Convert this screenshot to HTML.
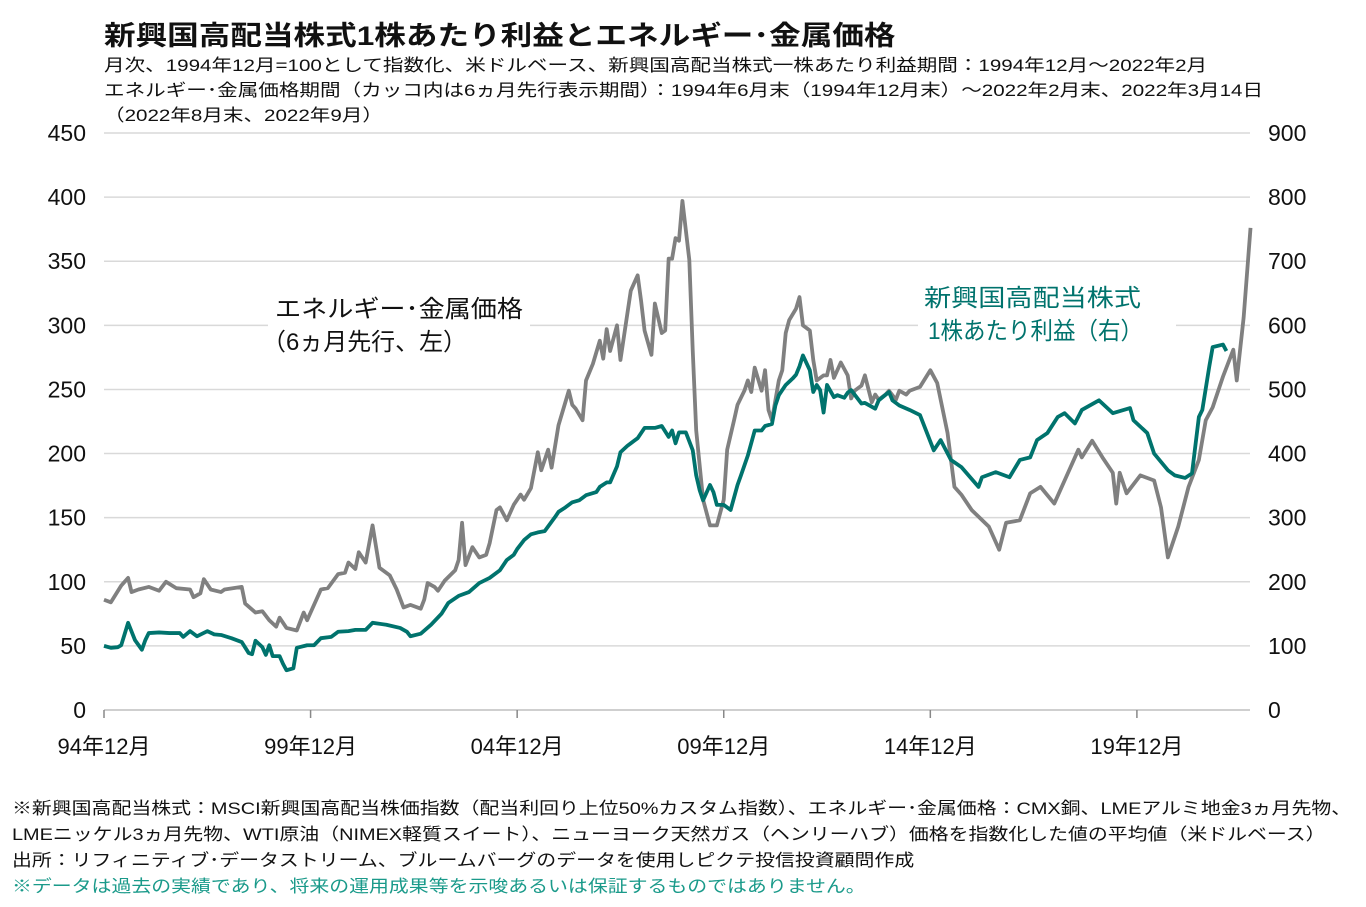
<!DOCTYPE html>
<html><head><meta charset="utf-8">
<style>
body{margin:0;background:#fff;width:1366px;height:907px;overflow:hidden;font-family:"Liberation Sans","Noto Sans CJK JP",sans-serif;color:#111}
.t{position:absolute;white-space:nowrap;transform-origin:0 0}
</style></head><body>
<div class="t" style="left:104px;top:14px;font-size:27px;font-weight:bold;transform:scaleX(1.17)">新興国高配当株式1株あたり利益とエネルギー･金属価格</div>
<div class="t" style="left:104px;top:51px;font-size:17px;transform:scaleX(1.21)">月次、1994年12月=100として指数化、米ドルベース、新興国高配当株式一株あたり利益期間：1994年12月～2022年2月</div>
<div class="t" style="left:104px;top:76px;font-size:17px;transform:scaleX(1.21)">エネルギー･金属価格期間（カッコ内は6ヵ月先行表示期間）：1994年6月末（1994年12月末）～2022年2月末、2022年3月14日</div>
<div class="t" style="left:104px;top:101px;font-size:17px;transform:scaleX(1.21)">（2022年8月末、2022年9月）</div>
<svg id="chart" width="1366" height="907" style="position:absolute;left:0;top:0"></svg>
<div class="t" style="left:12px;top:794px;font-size:17px;transform:scaleX(1.17)">※新興国高配当株式：MSCI新興国高配当株価指数（配当利回り上位50%カスタム指数）、エネルギー･金属価格：CMX銅、LMEアルミ地金3ヵ月先物、</div>
<div class="t" style="left:12px;top:820px;font-size:17px;transform:scaleX(1.17)">LMEニッケル3ヵ月先物、WTI原油（NIMEX軽質スイート）、ニューヨーク天然ガス（ヘンリーハブ）価格を指数化した値の平均値（米ドルベース）</div>
<div class="t" style="left:12px;top:846px;font-size:17px;transform:scaleX(1.17)">出所：リフィニティブ･データストリーム、ブルームバーグのデータを使用しピクテ投信投資顧問作成</div>
<div class="t" style="left:12px;top:872px;font-size:17px;color:#1a9a8a;transform:scaleX(1.17)">※データは過去の実績であり、将来の運用成果等を示唆あるいは保証するものではありません。</div>
<script>
const xTickLabels=["94年12月","99年12月","04年12月","09年12月","14年12月","19年12月"];
const xTickMonths=[0,60,120,180,240,300];
const leftTicks=[0,50,100,150,200,250,300,350,400,450];
const rightTicks=[0,100,200,300,400,500,600,700,800,900];
const greyMonths=[0,2,5,7,8,10,13,16,18,21,25,26,28,29,31,34,35,40,41,44,46,48,50,51,53,56,58,59,63,65,68,70,71,73,74,76,78,80,83,85,87,89,92,93,94,96,97,98,99,102,103,104,105,107,109,111,112,114,115,117,119,121,122,124,126,127,129,130,132,135,136,137,139,140,142,144,145,146,147,149,150,153,155,156,157,159,160,162,163,164,165,166,167,168,170,171,172,174,176,178,180,181,183,184,186,187,188,189,191,192,193,194,196,197,198,199,201,202,203,205,206,207,209,210,211,212,214,216,217,218,220,221,223,224,225,227,228,230,231,233,234,237,240,242,245,247,249,252,257,260,262,266,269,272,276,279,283,284,287,290,293,294,295,297,301,305,307,309,312,315,318,320,322,325,328,329,331,333];
const greyValues=[86,84,97,103,92,94,96,93,100,95,94,88,91,102,94,92,94,96,83,76,77,70,65,72,64,62,76,70,94,95,106,107,115,110,123,115,144,111,105,94,80,82,79,86,99,96,93,97,101,109,117,146,113,127,119,121,130,156,158,148,160,168,164,173,201,187,203,189,222,249,238,235,226,257,270,288,274,297,280,300,273,327,339,319,296,277,317,294,296,352,352,368,366,397,351,280,218,164,144,144,164,203,226,238,249,257,248,267,249,265,234,226,257,265,294,304,313,322,300,296,273,257,261,261,273,259,271,261,243,249,253,261,240,246,242,246,249,242,249,246,249,252,265,255,216,174,168,156,143,125,146,148,169,174,161,179,203,197,210,197,185,161,185,169,183,179,158,119,143,174,195,226,236,260,281,257,306,376];
const greenMonths=[0,2,4,5,7,9,11,12,13,16,19,22,23,25,27,30,32,34,37,40,42,43,44,46,47,48,49,51,52,53,55,56,59,61,63,66,68,71,73,76,78,82,86,88,89,92,95,98,100,103,106,109,112,115,117,119,120,122,124,126,128,131,132,134,136,138,140,143,144,146,147,149,150,152,153,155,157,160,162,164,165,166,167,169,171,172,173,174,176,177,178,180,182,184,185,187,189,191,192,194,195,196,198,200,201,202,203,205,206,207,208,209,210,212,213,215,216,217,220,221,224,225,228,229,231,234,237,241,243,246,249,254,255,259,263,266,269,271,274,277,279,282,284,289,293,298,299,303,305,309,311,314,316,318,319,321,322,325,326];
const greenValues=[100,97,98,101,136,109,94,109,120,121,120,120,114,123,115,123,118,117,112,106,89,87,108,98,86,101,84,84,72,62,65,97,101,101,112,114,122,123,125,125,136,133,128,122,115,119,133,150,167,178,184,198,206,218,234,242,251,265,274,277,279,301,309,316,324,327,335,340,348,355,355,380,402,412,416,424,440,440,443,426,436,416,433,433,405,366,343,327,351,340,320,320,312,351,366,397,436,436,443,446,475,491,507,517,523,536,553,530,496,507,499,464,507,488,491,487,495,499,478,479,470,483,496,483,475,468,460,405,421,390,379,348,363,371,363,390,394,421,432,457,463,447,468,483,463,471,452,432,400,374,366,362,369,457,468,535,566,570,560];

const NS="http://www.w3.org/2000/svg";
const svg=document.getElementById('chart');
const X0=104,PXM=3.443,Y0=710,YTOP=133;
const xOf=m=>X0+m*PXM;
const yL=v=>Y0-(v/450)*(Y0-YTOP);
const yR=v=>Y0-(v/900)*(Y0-YTOP);
function mk(tag,attrs,parent){const e=document.createElementNS(NS,tag);for(const k in attrs)e.setAttribute(k,attrs[k]);(parent||svg).appendChild(e);return e;}
leftTicks.forEach((v,i)=>{
  if(v>0){const g=mk('line',{x1:X0,x2:1250,y1:yL(v),y2:yL(v),stroke:'#d9d9d9','stroke-width':1.5});
  
  }
  const t=mk('text',{x:86,y:yL(v)+8,'text-anchor':'end','font-size':23,fill:'#111','font-family':'Liberation Sans, sans-serif'});t.textContent=v;
  
  
  const r=mk('text',{x:1268,y:yR(rightTicks[i])+8,'font-size':23,fill:'#111','font-family':'Liberation Sans, sans-serif'});r.textContent=rightTicks[i];
  
  
});
const ax=mk('line',{x1:X0,x2:1250,y1:Y0,y2:Y0,stroke:'#bfbfbf','stroke-width':1.5});


xTickMonths.forEach((m,i)=>{
  const tk=mk('line',{x1:xOf(m),x2:xOf(m),y1:Y0,y2:Y0+8,stroke:'#888','stroke-width':1.5});
  
  
  const t=mk('text',{x:xOf(m),y:754,'text-anchor':'middle','font-size':22,fill:'#111','font-family':'Liberation Sans, Noto Sans CJK JP, sans-serif'});t.textContent=xTickLabels[i];
  
  
});
const bg1=mk('rect',{x:268,y:288,width:262,height:72,fill:'#fff'});


const bg2=mk('rect',{x:918,y:278,width:258,height:72,fill:'#fff'});


const gp=mk('polyline',{points:greyMonths.map((m,i)=>xOf(m)+','+yL(greyValues[i])).join(' '),fill:'none',stroke:'#808080','stroke-width':3.8,'stroke-linejoin':'round'});


const gr=mk('polyline',{points:greenMonths.map((m,i)=>xOf(m)+','+yR(greenValues[i])).join(' '),fill:'none',stroke:'#00736d','stroke-width':3.8,'stroke-linejoin':'round'});


function lab(txt,x,y,col,name,len){const t=mk('text',{x:x,y:y,'font-size':24,fill:col,'font-family':'Liberation Sans, Noto Sans CJK JP, sans-serif',textLength:len,lengthAdjust:'spacingAndGlyphs'});t.textContent=txt;

}
lab('エネルギー･金属価格',275,317,'#111','energy-label-line1',248);
lab('（6ヵ月先行、左）',262,350,'#111','energy-label-line2',205);
lab('新興国高配当株式',924,306,'#00736d','eps-label-line1',217);
lab('1株あたり利益（右）',928,339,'#00736d','eps-label-line2',215);
</script>
</body></html>
